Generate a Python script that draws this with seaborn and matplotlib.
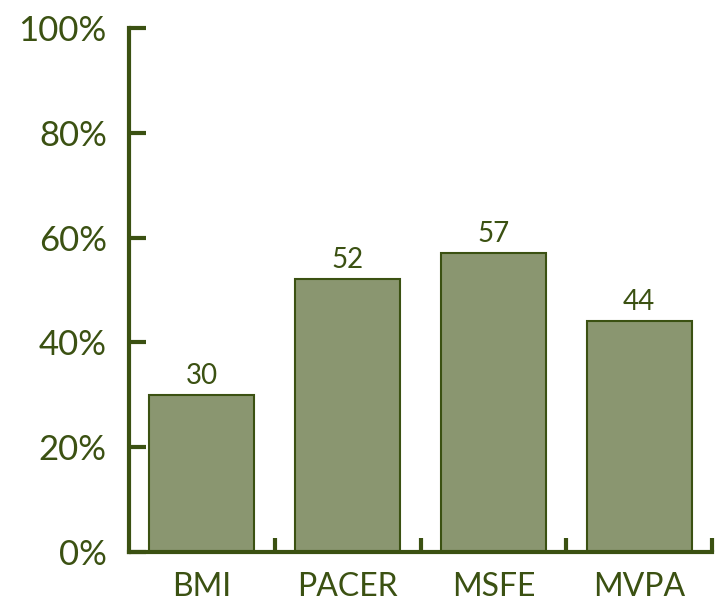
import matplotlib
matplotlib.use("Agg")
import matplotlib.pyplot as plt
import seaborn as sns
import pandas as pd
import numpy as np
from matplotlib.ticker import FixedLocator, NullFormatter

categories = ["BMI", "PACER", "MSFE", "MVPA"]
values = [30, 52, 57, 44]
yticks = [0, 20, 40, 60, 80, 100]
ytick_labels = ["0%", "20%", "40%", "60%", "80%", "100%"]

dark = "#3B5112"
fill = "#8A9670"

sns.set_theme(style="white")
plt.rcParams["font.family"] = ["Lato", "DejaVu Sans"]

fig = plt.figure(figsize=(7.17, 6.06), dpi=100)
ax = fig.add_axes([0.18, 0.089, 0.813, 0.865])

df = pd.DataFrame({"cat": categories, "val": values})
sns.barplot(data=df, x="cat", y="val", order=categories, color=fill,
            saturation=1, width=0.72, edgecolor=dark, linewidth=1.5, ax=ax)

ax.set_xlim(-0.5, len(categories) - 0.5)
ax.set_ylim(0, 100)
ax.set_yticks(yticks)
ax.set_yticklabels(ytick_labels)
ax.set_xlabel("")
ax.set_ylabel("")

for i, v in enumerate(values):
    ax.text(i, v + 1.2, str(v), ha="center", va="bottom", fontsize=20,
            color=dark)

for s in ["top", "right"]:
    ax.spines[s].set_visible(False)
for s in ["left", "bottom"]:
    ax.spines[s].set_color(dark)
    ax.spines[s].set_linewidth(3)

ax.tick_params(axis="y", direction="in", length=12, width=3, color=dark,
               labelcolor=dark, labelsize=25, pad=16, left=True)
ax.tick_params(axis="x", which="major", length=0, labelcolor=dark,
               labelsize=23, pad=14)
ax.xaxis.set_minor_locator(FixedLocator([0.5, 1.5, 2.5, 3.5]))
ax.xaxis.set_minor_formatter(NullFormatter())
ax.tick_params(axis="x", which="minor", direction="in", length=10, width=3,
               color=dark, bottom=True)
ax.grid(False)

fig.savefig("out.png", dpi=100)
